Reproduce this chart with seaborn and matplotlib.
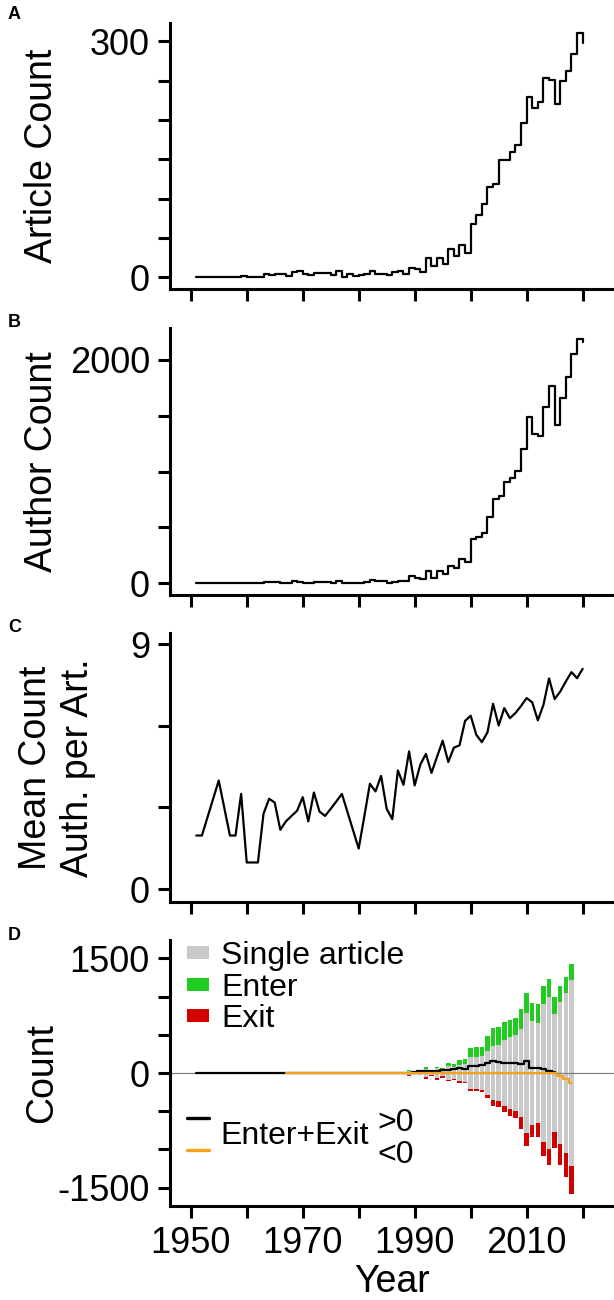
import numpy as np
import pandas as pd
import seaborn as sns
import matplotlib.pyplot as plt
from matplotlib.patches import Patch
from matplotlib.lines import Line2D

# データ
years = list(range(1951, 2021))
articles = [1, 0, 0, 0, 1, 0, 1, 1, 2, 0,
            0, 1, 4, 3, 5, 5, 2, 7, 8, 5,
            3, 6, 6, 6, 3, 8, 1, 4, 2, 3,
            5, 8, 5, 5, 3, 7, 8, 5, 12, 11,
            7, 25, 14, 25, 17, 36, 27, 41, 31, 68,
            80, 93, 115, 119, 149, 149, 160, 169, 196, 230,
            216, 223, 253, 251, 220, 250, 262, 284, 311, 298]
authors = [0, 0, 0, 0, 0, 0, 0, 0, 6, 0,
           0, 0, 9, 9, 15, 6, 0, 21, 15, 6,
           0, 12, 12, 10, 6, 24, 3, 3, 0, 3,
           10, 30, 21, 24, 3, 12, 21, 24, 66, 45,
           36, 113, 48, 110, 84, 158, 140, 215, 191, 394,
           412, 451, 597, 752, 785, 910, 940, 1003, 1200, 1493,
           1337, 1319, 1582, 1767, 1418, 1657, 1845, 2051, 2188, 2164]
mean_auth = [1.97, 1.97, np.nan, np.nan, 3.99, np.nan, 1.97, 1.97, 3.5, 0.98,
             0.98, 0.98, 2.77, 3.32, 3.18, 2.18, 2.49, 2.69, 2.88, 3.38,
             2.49, 3.55, 2.85, 2.69, 2.95, 3.22, 3.5, np.nan, np.nan, 1.49,
             2.67, 3.87, 3.59, 4.16, 2.95, 2.57, 4.36, 3.83, 5.06, 3.81,
             4.57, 4.97, 4.27, 4.87, 5.45, 4.67, 5.2, 5.28, 6.18, 6.37,
             5.67, 5.4, 5.76, 6.81, 6.01, 6.65, 6.28, 6.47, 6.73, 7.02,
             6.86, 6.2, 6.77, 7.74, 6.98, 7.26, 7.63, 7.97, 7.75, 8.09]

flow_years = list(range(1951, 2019))
single = [0, 0, 0, 0, 2, 0, 1, 1, 3, 0,
          0, 1, 4, 4, 6, 3, 1, 8, 7, 3,
          1, 5, 5, 5, 2, 10, 1, 2, 0, 2,
          5, 12, 8, 10, 2, 6, 10, 10, 30, 22,
          20, 55, 25, 65, 45, 90, 80, 110, 118, 212,
          212, 218, 290, 353, 370, 432, 475, 495, 580, 790,
          680, 660, 900, 1000, 770, 933, 1045, 1214]
enter = [0, 0, 0, 0, 1, 0, 0, 0, 1, 0,
         0, 0, 2, 2, 3, 1, 0, 4, 3, 1,
         0, 2, 2, 2, 1, 4, 0, 1, 0, 1,
         2, 5, 3, 4, 1, 2, 4, 4, 10, 8,
         8, 27, 15, 20, 27, 45, 34, 55, 61, 117,
         122, 125, 196, 231, 235, 240, 225, 230, 260, 260,
         230, 240, 240, 235, 230, 200, 215, 208]
exits = [0, 0, 0, 0, 1, 0, 0, 0, 1, 0,
         0, 0, 2, 2, 3, 1, 0, 4, 3, 2,
         1, 2, 2, 2, 1, 4, 1, 1, 0, 1,
         2, 5, 4, 4, 2, 3, 4, 5, 10, 6,
         6, 18, 12, 20, 15, 18, 15, 18, 18, 18,
         22, 27, 40, 74, 78, 74, 90, 100, 150, 170,
         160, 175, 190, 205, 210, 270, 320, 370]
# Enter+Exit >0 (黒) と <0 (橙)
net_pos = ([0] * 39 +
           [17, 22, 30, 22, 30, 39, 39, 52, 61, 52,
            92, 96, 109, 126, 161, 148, 131, 126, 126, 118,
            153, 61, 61, 48, 30, 9] +
           [np.nan] * 3)
net_neg = ([np.nan] * 16 +
           [-2, -3, -2, -1, -3, -2, -2, -1, -3, -2, -1, -2,
            -1, -3, -2, -2, -1, -3, -2, -1, -2, -3, -2] +
           [0] * 26 +
           [-39, -83, -135])

xticks = [1950, 1960, 1970, 1980, 1990, 2000, 2010, 2020]
xticklabels = ['1950', '', '1970', '', '1990', '', '2010', '']

c_gray = '#c9c9c9'
c_green = '#1fcc1f'
c_red = '#d40000'
c_orange = '#f7a21b'

sns.set_style('ticks')
plt.rcParams['font.family'] = ['Liberation Sans', 'DejaVu Sans']
plt.rcParams['axes.linewidth'] = 2.2
for k in ['text.color', 'axes.labelcolor', 'xtick.color', 'ytick.color', 'axes.edgecolor']:
    plt.rcParams[k] = 'black'

fig = plt.figure(figsize=(6.14, 13.0), dpi=100)
axA = fig.add_axes([0.2769, 0.7775, 0.7231, 0.2051])
axB = fig.add_axes([0.2769, 0.5423, 0.7231, 0.2052])
axC = fig.add_axes([0.2769, 0.3064, 0.7231, 0.2065])
axD = fig.add_axes([0.2769, 0.0723, 0.7231, 0.2046])


def style(ax, yticks, ylabels, ylim, ylabel, lx=-0.248):
    ax.set_xlim(1946.3, 2025.6)
    ax.set_ylim(*ylim)
    ax.set_yticks(yticks)
    ax.set_yticklabels(ylabels)
    ax.set_xticks(xticks)
    ax.set_xticklabels([''] * len(xticks))
    ax.set_xlabel('')
    ax.set_ylabel(ylabel, fontsize=27)
    ax.yaxis.set_label_coords(lx, 0.5)
    sns.despine(ax=ax)
    ax.tick_params(length=8.5, width=2.2, labelsize=26, pad=6, color='black', labelcolor='black')


# A
sns.lineplot(x=years, y=articles, color='black', lw=1.6, drawstyle='steps-post', ax=axA)
style(axA, [0, 50, 100, 150, 200, 250, 300], ['0', '', '', '', '', '', '300'],
      (-15, 324), 'Article Count')

# B
sns.lineplot(x=years, y=authors, color='black', lw=1.6, drawstyle='steps-post', ax=axB)
style(axB, [0, 500, 1000, 1500, 2000], ['0', '', '', '', '2000'],
      (-105, 2284), 'Author Count')

# C
dfC = pd.DataFrame({'Year': years, 'Mean': mean_auth}).dropna()
sns.lineplot(data=dfC, x='Year', y='Mean', color='black', lw=1.6, ax=axC)
style(axC, [0, 3, 6, 9], ['0', '', '', '9'], (-0.46, 9.4),
      'Mean Count\nAuth. per Art.', lx=-0.167)

# D
fy = np.array(flow_years)
s = np.array(single)
bw = 0.8
axD.bar(fy, 2 * s, bottom=-s, width=bw, color=c_gray, lw=0, zorder=2)
axD.bar(fy, enter, bottom=s, width=bw, color=c_green, lw=0, zorder=2)
axD.bar(fy, -np.array(exits), bottom=-s, width=bw, color=c_red, lw=0, zorder=2)
axD.axhline(0, color='#808080', lw=0.9, zorder=2.5)
sns.lineplot(x=flow_years, y=net_pos, color='black', lw=1.6, drawstyle='steps-mid', ax=axD, zorder=3)
sns.lineplot(x=flow_years, y=net_neg, color=c_orange, lw=1.6, drawstyle='steps-mid', ax=axD, zorder=3.1)
style(axD, [-1500, -1000, -500, 0, 500, 1000, 1500], ['-1500', '', '', '0', '', '', '1500'],
      (-1740, 1740), 'Count')
axD.set_xticklabels(xticklabels)
axD.set_xlabel('Year', fontsize=27, labelpad=2)

leg1 = axD.legend(handles=[Patch(facecolor=c_gray, edgecolor='none', label='Single article'),
                           Patch(facecolor=c_green, edgecolor='none', label='Enter'),
                           Patch(facecolor=c_red, edgecolor='none', label='Exit')],
                  loc='upper left', bbox_to_anchor=(0.038, 0.996), frameon=False, fontsize=23,
                  handlelength=0.7, handleheight=0.25, handletextpad=0.37, labelspacing=0.05,
                  borderpad=0, borderaxespad=0)
axD.add_artist(leg1)
axD.legend(handles=[Line2D([], [], color='black', lw=2.4), Line2D([], [], color=c_orange, lw=2.4)],
           labels=[' ', ' '], loc='upper left', bbox_to_anchor=(0.038, 0.374), frameon=False,
           fontsize=23, handlelength=0.7, handletextpad=0.37, labelspacing=0.05,
           borderpad=0, borderaxespad=0)
axD.text(0.114, 0.262, 'Enter+Exit', transform=axD.transAxes, fontsize=23, ha='left', va='center')
axD.text(0.466, 0.312, '>0', transform=axD.transAxes, fontsize=23, ha='left', va='center')
axD.text(0.466, 0.192, '<0', transform=axD.transAxes, fontsize=23, ha='left', va='center')

# パネル記号
for lab, yy in zip('ABCD', [0.989, 0.752, 0.517, 0.280]):
    fig.text(0.013, yy, lab, fontsize=13, fontweight='bold', ha='left', va='center')

fig.savefig('out.png', dpi=100)
